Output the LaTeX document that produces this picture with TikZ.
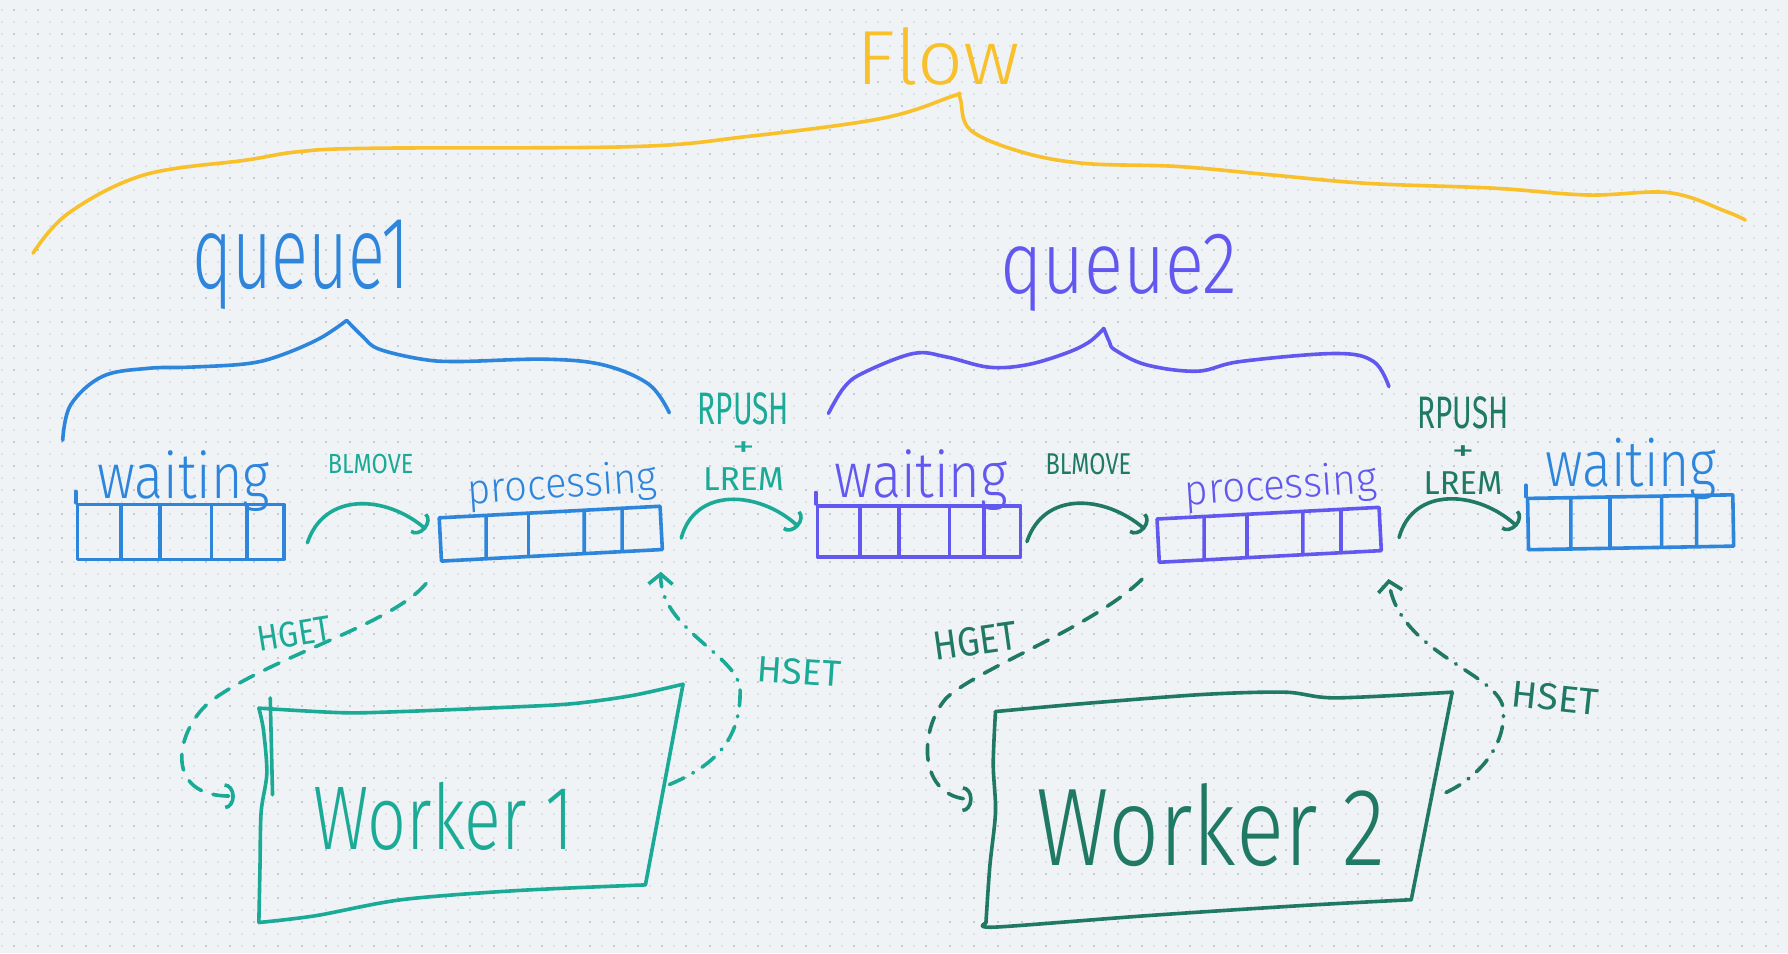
\documentclass[tikz,border=0pt]{standalone}
\usepackage{fontspec}
\usepackage{graphicx}
\newfontfamily\handfont{Fira Sans Light}
\newfontfamily\smallhand{Fira Sans}
\usetikzlibrary{arrows.meta, positioning, calc}

\definecolor{paper}{RGB}{239,243,246}
\definecolor{dotlight}{RGB}{221,225,230}
\definecolor{dotdark}{RGB}{198,203,211}
\definecolor{flowyellow}{RGB}{248,193,44}
\definecolor{qblue}{RGB}{46,133,220}
\definecolor{qpurple}{RGB}{98,88,240}
\definecolor{wteal}{RGB}{27,170,150}
\definecolor{wgreen}{RGB}{31,121,100}

% hand lettering squeezed into a measured box
\newcommand{\hw}[3]{\resizebox{#1}{#2}{\handfont #3}}
\newcommand{\hs}[3]{\resizebox{#1}{#2}{\smallhand #3}}

\tikzset{%
	pen/.style={line width=1.8pt, line cap=round, line join=round},
	brace/.style={pen, draw=#1},
	qbox/.style={draw=#1, pen, rectangle, inner sep=0pt,%
		path picture={\foreach \f in {0.21,0.40,0.65,0.82}
			\draw[#1, pen] ($(path picture bounding box.north west)!\f!(path picture bounding box.north east)$)
				-- ($(path picture bounding box.south west)!\f!(path picture bounding box.south east)$);}},
	txt/.style={inner sep=0pt, text=#1},
	move/.style={pen, draw=#1, -{Arc Barb[length=5pt, width=13pt]}},
	hget/.style={move=#1, dash pattern=on 8pt off 6pt},
	hset/.style={pen, draw=#1, -{Straight Barb[length=5pt, width=12pt]}, dash pattern=on 8pt off 5pt on 0.5pt off 5pt},
	worker/.style={pen, draw=#1}
}

\begin{document}
\begin{tikzpicture}[x=0.02cm, y=-0.02cm]
	\fill[paper] (0,0) rectangle (1568,836);
	\useasboundingbox (0,0) rectangle (1568,836);
	\foreach \r in {0,...,79}
		\draw[dotlight, line width=0.035cm, dash pattern=on 0.035cm off 0.175474cm]
			(0.877,{8.77+10.5237*\r}) -- (1568,{8.77+10.5237*\r});
	\foreach \r in {0,...,39}
		\draw[dotdark, line width=0.035cm, dash pattern=on 0.035cm off 0.385948cm]
			(11.4,{8.77+21.0474*\r}) -- (1568,{8.77+21.0474*\r});

	% flow
	\node[txt=flowyellow, anchor=base] (flow) at (823,74) {\hw{2.86cm}{1.0cm}{Flow}};
	\draw[brace=flowyellow] plot[smooth, tension=0.6] coordinates {(29,222) (60,187) (126,153.5) (216.5,140.3)
		(262,133) (327,130) (554,128.6) (654.5,119.8) (773.4,103.8) (834,84.8) (841,81.8)};
	\draw[brace=flowyellow] plot[smooth, tension=0.6] coordinates {(841,81.8) (842.5,88) (851,114) (895,133)
		(950,143.2) (1033,146) (1116,153.5) (1199,160.8) (1309.5,165) (1392.4,171) (1464,169) (1514,185.6) (1530.5,193)};

	% queues
	\node[txt=qblue, anchor=base] (q1) at (264,253) {\hw{3.82cm}{1.2cm}{queue1}};
	\draw[brace=qblue] plot[smooth, tension=0.6] coordinates {(55,386) (62,355) (90,330) (130,323) (166,322)
		(216,319) (245,312) (280,297) (304,281)};
	\draw[brace=qblue] plot[smooth, tension=0.6] coordinates {(304,281) (318,295) (332,306) (370,315) (403,317)
		(478,315) (529,320) (569,337) (587,362)};
	\node[txt=qpurple, anchor=base] (q2) at (981,257) {\hw{4.16cm}{1.04cm}{queue2}};
	\draw[brace=qpurple] plot[smooth, tension=0.6] coordinates {(726.5,362.6) (740,340) (757,327) (801,310)
		(830,313) (867,322) (900,320) (934,310) (955,300) (968,288)};
	\draw[brace=qpurple] plot[smooth, tension=0.6] coordinates {(968,288) (973,300) (978,307) (1005.5,320)
		(1050,325.5) (1088,317) (1171,310) (1204.5,317) (1218,339)};

	\node[qbox=qblue, minimum width=3.62cm, minimum height=0.96cm] (w1) at (158.5,466.5) {};
	\node[qbox=qblue, minimum width=3.88cm, minimum height=0.76cm, rotate=3] (p1) at (483,468) {};
	\node[qbox=qpurple, minimum width=3.56cm, minimum height=0.9cm] (w2) at (806,466) {};
	\node[qbox=qpurple, minimum width=3.9cm, minimum height=0.76cm, rotate=3] (p2) at (1113,469) {};
	\node[qbox=qblue, minimum width=3.6cm, minimum height=0.9cm, rotate=1] (w3) at (1430,458) {};
	\draw[pen, qblue] (w1.north west) -- ++(0,-10);
	\draw[pen, qpurple] (w2.north west) -- ++(0,-10);
	\draw[pen, qblue] (w3.north west) -- ++(0,-10);

	\node[txt=qblue, above=0.08cm of w1, anchor=base, xshift=0.05cm] (w1l) {\hw{3.02cm}{0.84cm}{waiting}};
	\node[txt=qblue, above=0.22cm of p1, anchor=base, xshift=0.24cm, rotate=4] (p1l) {\hw{3.32cm}{0.56cm}{processing}};
	\node[txt=qpurple, above=0.12cm of w2, anchor=base, xshift=0.04cm] (w2l) {\hw{3.04cm}{0.84cm}{waiting}};
	\node[txt=qpurple, above=0.22cm of p2, anchor=base, xshift=0.24cm, rotate=4] (p2l) {\hw{3.37cm}{0.56cm}{processing}};
	\node[txt=qblue, above=0.14cm of w3, anchor=base, xshift=0.02cm] (w3l) {\hw{3.0cm}{0.85cm}{waiting}};

	% commands between the lists
	\node[txt=wteal, anchor=base] (bl1) at (325,415) {\hs{1.5cm}{0.34cm}{BLMOVE}};
	\node[txt=wgreen, anchor=base] (bl2) at (954.5,416.5) {\hs{1.5cm}{0.37cm}{BLMOVE}};
	\node[txt=wteal, anchor=north, align=center, font=\fontsize{10}{16}\selectfont] (rp1) at (652,344)
		{\hs{1.6cm}{0.56cm}{RPUSH}\\ \hs{0.4cm}{0.26cm}{+}\\[0.04cm] \hs{1.42cm}{0.4cm}{LREM}};
	\node[txt=wgreen, anchor=north, align=center, font=\fontsize{10}{16}\selectfont] (rp2) at (1283,347)
		{\hs{1.6cm}{0.56cm}{RPUSH}\\ \hs{0.4cm}{0.26cm}{+}\\[0.04cm] \hs{1.38cm}{0.4cm}{LREM}};

	\draw[move=wteal] ($(w1.east)+(19,9.5)$) .. controls +(15,-45) and +(-35,-30) .. ($(p1.west)+(-11,-9)$);
	\draw[move=wteal] ($(p1.east)+(16,9)$) .. controls +(12,-45) and +(-35,-32) .. ($(w2.west)+(-15,-4)$);
	\draw[move=wgreen] ($(w2.east)+(4,9)$) .. controls +(15,-45) and +(-35,-30) .. ($(p2.west)+(-10,-10)$);
	\draw[move=wgreen] ($(p2.east)+(15,7.6)$) .. controls +(12,-45) and +(-35,-32) .. ($(w3.west)+(-8,2)$);

	% workers
	\node[txt=wteal, anchor=base] (wk1) at (389,745) {\hw{4.58cm}{1.18cm}{Worker 1}};
	\draw[worker=wteal] plot[smooth, tension=0.5] coordinates {(227,621) (300,625) (352,624) (450,620) (503,617) (554,610) (599,600)};
	\draw[worker=wteal] (599,600) -- (566,776);
	\draw[worker=wteal] plot[smooth, tension=0.5] coordinates {(566,776) (453,781) (352,789) (277,803) (227,809)};
	\draw[worker=wteal] plot[smooth, tension=0.5] coordinates {(227,809) (228,760) (229,712) (234,678) (231,640) (227,621)};
	\draw[worker=wteal] (237,612) -- (239,697);

	\node[txt=wgreen, anchor=base] (wk2) at (1062,759) {\hw{6.12cm}{1.44cm}{Worker 2}};
	\draw[worker=wgreen] plot[smooth, tension=0.5] coordinates {(873,624) (950,617) (1055,609) (1127,607) (1171,612) (1273.5,607)};
	\draw[worker=wgreen] (1273.5,607) -- (1237.6,789);
	\draw[worker=wgreen] plot[smooth, tension=0.5] coordinates {(1237.6,789) (1143.7,794) (1005.5,803) (873,813) (864.6,809.5)};
	\draw[worker=wgreen] plot[smooth, tension=0.5] coordinates {(864.6,809.5) (868,760) (873,712) (871,670) (873,624)};

	\coordinate (hg1b) at (186,614);
	\coordinate (hg1to) at (206,698);
	\coordinate (hs1from) at (587,688);
	\coordinate (hs1b) at (649,605);
	\coordinate (hg2b) at (830,612);
	\coordinate (hg2to) at (853,701);
	\coordinate (hs2from) at (1268,695);
	\coordinate (hs2b) at (1318,620);

	\draw[hget=wteal] ($(p1.south west)+(-12,18)$) .. controls +(-30,36) and +(54,-39) .. (hg1b)
		.. controls +(-31,23) and +(-66,2) .. (hg1to);
	\draw[hset=wteal] (hs1from) .. controls +(38,-16) and +(1,45) .. (hs1b)
		.. controls +(-1,-30) and +(-1,50) .. ($(p1.south east)+(-3,18)$);
	\draw[hget=wgreen] ($(p2.south west)+(-13.6,13.2)$) .. controls +(-43,42) and +(30,-27) .. (hg2b)
		.. controls +(-25,28) and +(-48,-1) .. (hg2to);
	\draw[hset=wgreen] (hs2from) .. controls +(32,-15) and +(4,30) .. (hs2b)
		.. controls +(-6,-30) and +(9,64) .. ($(p2.south east)+(4.7,23.4)$);

	\node[txt=wteal, rotate=9] (hg1) at (258,556) {\hs{1.3cm}{0.44cm}{HGET}};
	\node[txt=wteal, rotate=-4] (hs1) at (701,589) {\hs{1.46cm}{0.45cm}{HSET}};
	\node[txt=wgreen, rotate=8] (hg2) at (855,562) {\hs{1.48cm}{0.5cm}{HGET}};
	\node[txt=wgreen, rotate=-6] (hs2) at (1364,612) {\hs{1.52cm}{0.46cm}{HSET}};
\end{tikzpicture}
\end{document}
